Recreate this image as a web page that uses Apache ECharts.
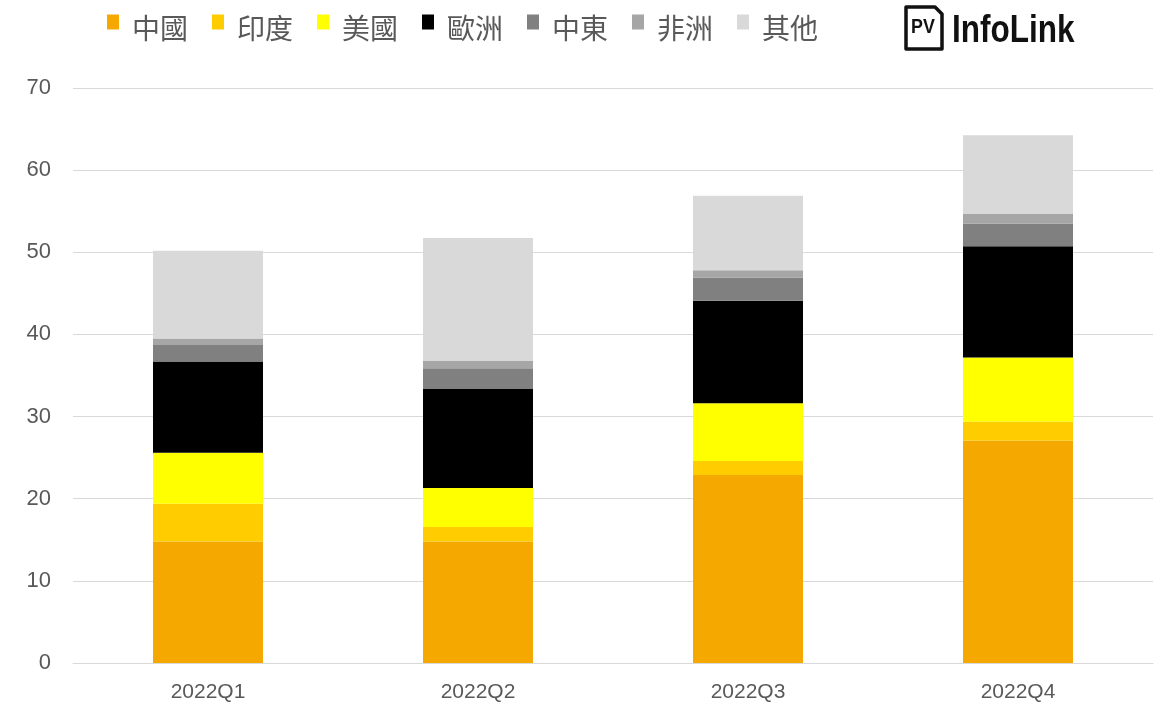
<!DOCTYPE html>
<html><head><meta charset="utf-8">
<script src="https://cdn.jsdelivr.net/npm/echarts@6/dist/echarts.min.js"></script>
<style>html,body{margin:0;padding:0;background:#fff}#c{width:1166px;height:709px}</style>
</head><body><div id="c"></div>
<script>
const categories = ['2022Q1','2022Q2','2022Q3','2022Q4'];
const seriesNames = ['中國','印度','美國','歐洲','中東','非洲','其他'];
const china  = [14.8, 14.8, 22.9, 27.1];
const india  = [4.6, 1.75, 1.7, 2.26];
const usa    = [6.2, 4.74, 7.03, 7.84];
const europe = [11.1, 12.08, 12.46, 13.54];
const mideast= [2.0, 2.52, 2.84, 2.77];
const africa = [0.8, 0.89, 0.89, 1.15];
const other  = [10.7, 14.96, 9.05, 9.58];
const colors = ['#F5A800','#FFCC00','#FFFF00','#000000','#808080','#A6A6A6','#D9D9D9'];
const dataSets = [china, india, usa, europe, mideast, africa, other];

const chart = echarts.init(document.getElementById('c'));
chart.setOption({
  animation: false,
  color: colors,
  legend: {
    top: 9, left: 102,
    itemWidth: 12, itemHeight: 27, itemGap: 24,
    icon: 'path://M0,0H12V15H0Z M0,27L0.01,27',
    textStyle: {color: '#595959', fontSize: 28, fontFamily: 'Noto Sans CJK TC', padding: [0,0,0,8]},
    data: seriesNames
  },
  grid: {left: 73, right: 13, top: 88, bottom: 46},
  xAxis: {
    type: 'category', data: categories,
    axisLine: {lineStyle: {color: '#d9d9d9'}},
    axisTick: {show: false},
    axisLabel: {color: '#595959', fontSize: 21, fontFamily: 'Liberation Sans', margin: 19}
  },
  yAxis: {
    type: 'value', min: 0, max: 70, interval: 10,
    axisLine: {show: false}, axisTick: {show: false},
    splitLine: {lineStyle: {color: '#d9d9d9', width: 1}},
    axisLabel: {color: '#595959', fontSize: 22, fontFamily: 'Liberation Sans', margin: 22}
  },
  graphic: [
    {type: 'polygon', shape: {points: [[906,7],[935,7],[942,14],[942,49],[906,49]]},
     style: {fill: '#fff', stroke: '#111', lineWidth: 3.5, lineJoin: 'round'}},
    {type: 'text', x: 911, y: 17, scaleX: 0.85, style: {text: 'PV', fill: '#111', font: 'bold 21px "Liberation Sans", sans-serif'}},
    {type: 'text', x: 952, y: 13, scaleX: 0.83, style: {text: 'InfoLink', fill: '#111', font: 'bold 38px "Liberation Sans", sans-serif'}}
  ],
  series: seriesNames.map((n, i) => ({
    name: n, type: 'bar', stack: 'total', barWidth: 110,
    data: dataSets[i],
    itemStyle: {color: colors[i]}
  }))
});
</script></body></html>
